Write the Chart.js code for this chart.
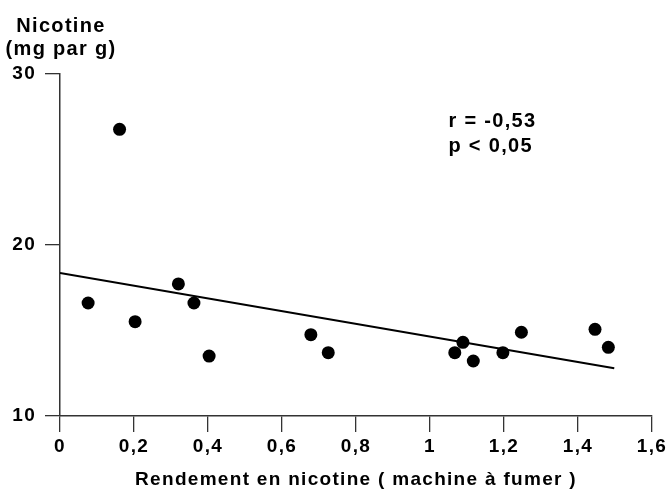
<!DOCTYPE html>
<html>
<head>
<meta charset="utf-8">
<script src="https://cdn.jsdelivr.net/npm/chart.js@4"></script>
<style>
  body { margin: 0; background: #fff; }
  #wrap { width: 667px; height: 491px; }
</style>
</head>
<body>
<div id="wrap"><canvas id="myChart"></canvas></div>
<script>
// rendement en nicotine (machine à fumer) vs nicotine (mg par g)
const nicotineYield = [0.076, 0.161, 0.203, 0.320, 0.362, 0.403, 0.678, 0.725, 1.067, 1.089, 1.117, 1.197, 1.247, 1.446, 1.482];
const nicotineContent = [16.60, 26.74, 15.51, 17.71, 16.60, 13.50, 14.75, 13.70, 13.70, 14.30, 13.21, 13.70, 14.89, 15.06, 14.01];

// droite de régression
const fitX = [0, 1.498];
const fitY = [18.35, 12.79];

const xTicks = [0, 0.2, 0.4, 0.6, 0.8, 1, 1.2, 1.4, 1.6];
const yTicks = [10, 20, 30];

const yTitle = ["Nicotine", "(mg par g)"];
const statLines = ["r = -0,53", "p < 0,05"];

const fontFamily = "Arial, 'Liberation Sans', sans-serif";
const axisColor = "#333";

const toComma = v => String(Number(v.toFixed(1))).replace(".", ",");

const spacingPlugin = {
  id: "spacing",
  beforeDraw: chart => {
    chart.ctx.letterSpacing = "1.3px";
  },
};

const textPlugin = {
  id: "texts",
  afterDraw: chart => {
    const { ctx, chartArea, scales } = chart;
    ctx.save();
    ctx.fillStyle = "#000";
    ctx.textBaseline = "alphabetic";

    ctx.font = "bold 20px " + fontFamily;
    ctx.textAlign = "center";
    ctx.fillText(yTitle[0], chartArea.left + 1, 32);
    ctx.fillText(yTitle[1], chartArea.left + 1, 55);

    ctx.font = "bold 20px " + fontFamily;
    ctx.textAlign = "left";
    const sx = scales.x.getPixelForValue(1.05);
    const sy = scales.y.getPixelForValue(26.9);
    ctx.fillText(statLines[0], sx, sy);
    ctx.fillText(statLines[1], sx, sy + 25);
    ctx.restore();
  },
};

const ctx = document.querySelector("#myChart");

new Chart(ctx, {
  type: "scatter",
  data: {
    datasets: [
      {
        label: "points",
        data: nicotineYield.map((x, i) => ({ x, y: nicotineContent[i] })),
        backgroundColor: "#000",
        borderWidth: 0,
        pointRadius: 6.5,
        pointHoverRadius: 6.5,
      },
      {
        type: "line",
        label: "régression",
        data: fitX.map((x, i) => ({ x, y: fitY[i] })),
        borderColor: "#000",
        borderWidth: 2.2,
        pointRadius: 0,
        fill: false,
      },
    ],
  },
  options: {
    responsive: true,
    maintainAspectRatio: false,
    animation: false,
    layout: {
      padding: { top: 73.5, right: 15, left: 0, bottom: 0 },
    },
    scales: {
      x: {
        type: "linear",
        min: 0,
        max: 1.6,
        afterBuildTicks: scale => {
          scale.ticks = xTicks.map(value => ({ value }));
        },
        afterFit: scale => {
          scale.height = 75;
          scale.paddingLeft = 0;
          scale.paddingRight = 0;
        },
        border: { display: true, color: axisColor, width: 1.5 },
        grid: {
          drawOnChartArea: false,
          drawTicks: true,
          tickLength: 16,
          color: axisColor,
          lineWidth: 1.3,
        },
        ticks: {
          color: "#000",
          padding: 3,
          maxRotation: 0,
          font: { family: fontFamily, size: 19, weight: "bold" },
          callback: value => toComma(value),
        },
        title: {
          display: true,
          text: "Rendement en nicotine ( machine à fumer )",
          color: "#000",
          padding: 0,
          font: { family: fontFamily, size: 19, weight: "bold" },
        },
      },
      y: {
        type: "linear",
        min: 10,
        max: 30,
        afterBuildTicks: scale => {
          scale.ticks = yTicks.map(value => ({ value }));
        },
        afterFit: scale => {
          scale.width = 60;
        },
        border: { display: true, color: axisColor, width: 1.5 },
        grid: {
          drawOnChartArea: false,
          drawTicks: true,
          tickLength: 15,
          color: axisColor,
          lineWidth: 1.3,
        },
        ticks: {
          color: "#000",
          padding: 9,
          font: { family: fontFamily, size: 19, weight: "bold" },
        },
      },
    },
    plugins: {
      legend: { display: false },
      tooltip: { enabled: false },
    },
  },
  plugins: [spacingPlugin, textPlugin],
});
</script>
</body>
</html>
